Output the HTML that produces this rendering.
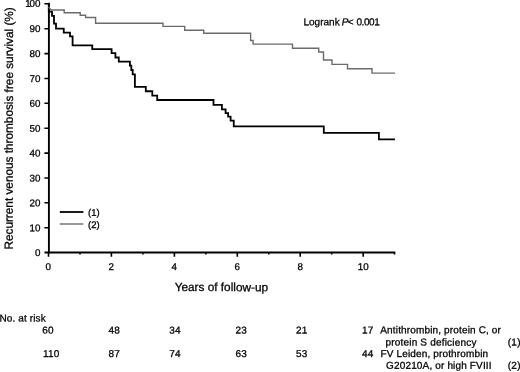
<!DOCTYPE html>
<html>
<head>
<meta charset="utf-8">
<title>Recurrent venous thrombosis free survival</title>
<style>
html,body{margin:0;padding:0;background:#fff;}
body{width:520px;height:372px;overflow:hidden;}
svg{display:block;filter:blur(0.35px);}
text{font-family:"Liberation Sans",Arial,sans-serif;fill:#000;stroke:#000;stroke-width:0.28px;text-rendering:geometricPrecision;}
.t10{font-size:10px;}
.t12{font-size:12px;}
.t98{font-size:9.8px;}
.t103{font-size:10.35px;}
</style>
</head>
<body>
<svg width="520" height="372" viewBox="0 0 520 372">
<rect width="520" height="372" fill="#ffffff"/>
<!-- axes -->
<g stroke="#000" stroke-width="1.9" fill="none">
<path d="M48.9,2.8 V253.4"/>
<path d="M44.5,252.5 H395.2"/>
</g>
<g stroke="#000" stroke-width="1.6" fill="none">
<!-- y ticks -->
<path d="M44.4,3.8H49 M44.4,28.7H49 M44.4,53.6H49 M44.4,78.5H49 M44.4,103.3H49 M44.4,128.2H49 M44.4,153.1H49 M44.4,178.0H49 M44.4,202.8H49 M44.4,227.7H49"/>
<!-- x major ticks -->
<path d="M48.5,252V256.7 M111.4,252V256.7 M174.4,252V256.7 M237.3,252V256.7 M300.2,252V256.7 M363.2,252V256.7"/>
<!-- x minor ticks -->
<path d="M80,252V254.6 M142.9,252V254.6 M205.9,252V254.6 M268.8,252V254.6 M331.7,252V254.6 M394.5,252V254.6"/>
</g>
<!-- curves -->
<path id="black" fill="none" stroke="#000" stroke-width="1.8" d="M48.8,3.5 V11.6 H52 V15.9 H54 V23.6 H56 V28.6 H63.75 V32.6 H70 V36.4 H72.6 V45.3 H92.25 V49.1 H111.6 V53.1 H115.4 V57.5 H118.8 V61.6 H129.9 V65.7 H131.3 V70 H132.7 V74.4 H134.9 V86.9 H145.8 V91.25 H152.3 V95.6 H157.2 V100 H213.5 V104.9 H221.9 V109.3 H225.6 V113.1 H228.1 V116.7 H230.6 V120.7 H233.75 V126.3 H323.8 V132.8 H378.9 V139.4 H395"/>
<path id="gray" fill="none" stroke="#6c6c6c" stroke-width="1.4" d="M48.6,7 L51,10 H64.2 V12.8 H80.2 V15.3 H85.6 V17.5 H95.6 V23.2 H163 V26.4 H184.7 V30.2 H203.75 V33.2 H250.6 V40.5 H253.1 V44.1 H292.5 V48.2 H318.75 V52 H323.5 V60 H332 V64.4 H347.5 V68.75 H372 V73.1 H395"/>
<!-- legend -->
<path d="M59.8,212H83.4" stroke="#000" stroke-width="1.8"/>
<path d="M59.8,224H83.4" stroke="#6c6c6c" stroke-width="1.4"/>
<text style="font-size:9.5px" x="88" y="215.8" transform="rotate(0.03 88 215.8)">(1)</text>
<text style="font-size:9.5px" x="88" y="228" transform="rotate(0.03 88 228)">(2)</text>
<!-- y tick labels -->
<g class="t98" text-anchor="end">
<text x="40.5" y="6.8" transform="rotate(0.03 40.5 6.8)">1<tspan dx="-1.1">00</tspan></text>
<text x="40.5" y="32.1" transform="rotate(0.03 40.5 32.1)">90</text>
<text x="40.5" y="57.0" transform="rotate(0.03 40.5 57.0)">80</text>
<text x="40.5" y="82.0" transform="rotate(0.03 40.5 82.0)">70</text>
<text x="40.5" y="106.8" transform="rotate(0.03 40.5 106.8)">60</text>
<text x="40.5" y="131.7" transform="rotate(0.03 40.5 131.7)">50</text>
<text x="40.5" y="156.6" transform="rotate(0.03 40.5 156.6)">40</text>
<text x="40.5" y="181.4" transform="rotate(0.03 40.5 181.4)">30</text>
<text x="40.5" y="206.2" transform="rotate(0.03 40.5 206.2)">20</text>
<text x="40.5" y="231.2" transform="rotate(0.03 40.5 231.2)">10</text>
<text x="40.5" y="256.1" transform="rotate(0.03 40.5 256.1)">0</text>
</g>
<!-- x tick labels -->
<g class="t98" text-anchor="middle">
<text x="48.3" y="270" transform="rotate(0.03 48.3 270)">0</text>
<text x="111.3" y="270" transform="rotate(0.03 111.3 270)">2</text>
<text x="174.3" y="270" transform="rotate(0.03 174.3 270)">4</text>
<text x="237.2" y="270" transform="rotate(0.03 237.2 270)">6</text>
<text x="300.2" y="270" transform="rotate(0.03 300.2 270)">8</text>
<text x="363.2" y="270" transform="rotate(0.03 363.2 270)">10</text>
</g>
<text style="font-size:11.8px" x="174.7" y="291.1" transform="rotate(0.03 174.7 291.1)">Years of follow-up</text>
<text class="t10" x="303.5" y="25.3" transform="rotate(0.03 303.5 25.3)">Logrank <tspan dx="-0.7" font-style="italic">P</tspan><tspan dx="-0.6">&lt;</tspan><tspan dx="0.4" letter-spacing="-0.4"> 0.001</tspan></text>
<text transform="translate(12.8,249.6) rotate(-89.97)" style="font-size:11.8px;word-spacing:-0.05px">Recurrent venous thrombosis free survival (%)</text>
<!-- risk table -->
<text class="t10" id="norisk" x="-0.5" y="321.4" letter-spacing="0.12" transform="rotate(0.03 -0.5 321.4)">No. at risk</text>
<g class="t10" letter-spacing="0.3">
<text x="42.2" y="333.4" transform="rotate(0.03 42.2 333.4)">60</text>
<text x="108.4" y="333.4" transform="rotate(0.03 108.4 333.4)">48</text>
<text x="169.2" y="333.4" transform="rotate(0.03 169.2 333.4)">34</text>
<text x="235.5" y="333.4" transform="rotate(0.03 235.5 333.4)">23</text>
<text x="296" y="333.4" transform="rotate(0.03 296 333.4)">21</text>
<text x="362" y="333.4" transform="rotate(0.03 362 333.4)">17</text>
<text x="42.9" y="357.1" transform="rotate(0.03 42.9 357.1)">110</text>
<text x="108.4" y="357.1" transform="rotate(0.03 108.4 357.1)">87</text>
<text x="169.2" y="357.1" transform="rotate(0.03 169.2 357.1)">74</text>
<text x="235.5" y="357.1" transform="rotate(0.03 235.5 357.1)">63</text>
<text x="296" y="357.1" transform="rotate(0.03 296 357.1)">53</text>
<text x="362" y="357.1" transform="rotate(0.03 362 357.1)">44</text>
</g>
<g class="t10">
<text id="L1" x="380.3" y="333.3" letter-spacing="0.15" transform="rotate(0.03 380.3 333.3)">Antithrombin, protein C, or</text>
<text id="L2" x="385.5" y="345.6" letter-spacing="0.19" transform="rotate(0.03 385.5 345.6)">protein S deficiency</text>
<text id="L3" x="380.5" y="356.9" letter-spacing="0.15" transform="rotate(0.03 380.5 356.9)">FV Leiden, prothrombin</text>
<text id="L4" x="386.1" y="368.7" letter-spacing="0.15" transform="rotate(0.03 386.1 368.7)">G20210A, or high FVIII</text>
<text x="507.7" y="345.6" letter-spacing="0.3" transform="rotate(0.03 507.7 345.6)">(1)</text>
<text x="507.7" y="368.7" letter-spacing="0.3" transform="rotate(0.03 507.7 368.7)">(2)</text>
</g>
</svg>
</body>
</html>
